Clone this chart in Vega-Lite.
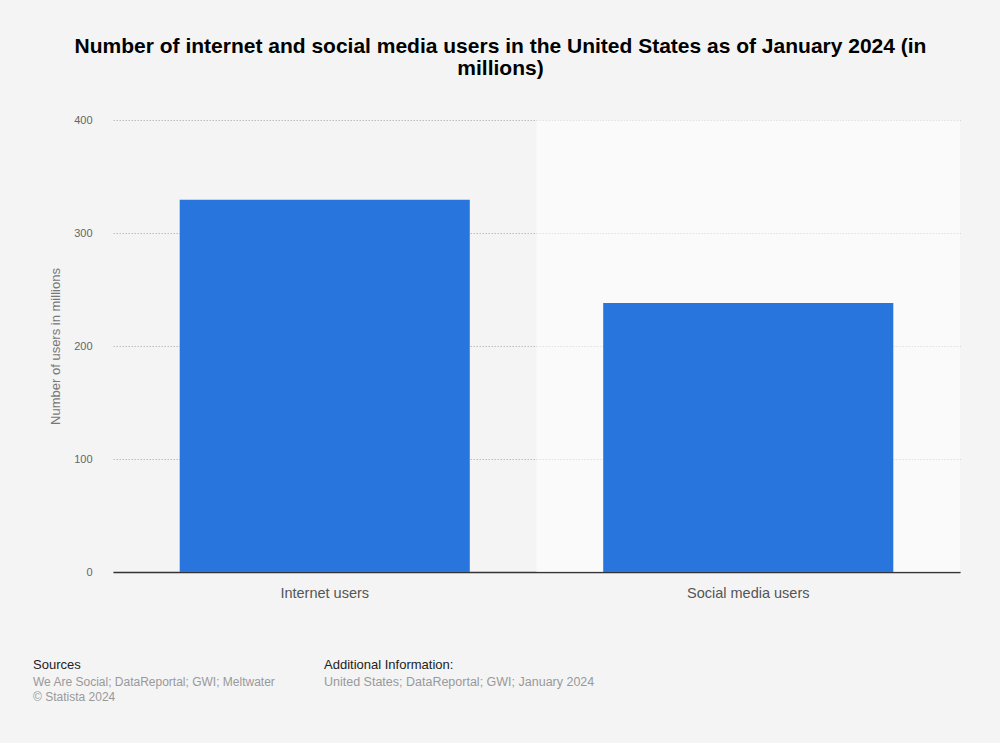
{
  "$schema": "https://vega.github.io/schema/vega-lite/v6.json",
  "width": 847,
  "height": 452,
  "autosize": {"type": "none"},
  "padding": {"left": 113, "top": 120, "right": 40, "bottom": 171},
  "background": "#f4f4f4",
  "config": {"view": {"stroke": null}, "font": "Liberation Sans"},
  "title": {
    "text": ["Number of internet and social media users in the United States as of January 2024 (in", "millions)"],
    "fontSize": 21,
    "fontWeight": "bold",
    "color": "#000000",
    "lineHeight": 22,
    "offset": 35,
    "dx": -36,
    "anchor": "middle"
  },
  "data": {
    "values": [
      {"category": "Internet users", "users": 329.5},
      {"category": "Social media users", "users": 238}
    ]
  },
  "layer": [
    {
      "transform": [{"filter": "datum.category === 'Social media users'"}],
      "mark": {"type": "bar", "color": "#ffffff", "opacity": 0.55, "width": {"band": 1}},
      "encoding": {
        "x": {"field": "category", "type": "nominal"},
        "y": {"datum": 400, "type": "quantitative"},
        "y2": {"datum": 0}
      }
    },
    {
      "mark": {"type": "bar", "color": "#2876dd", "width": {"band": 0.685}},
      "encoding": {
        "x": {
          "field": "category",
          "type": "nominal",
          "sort": null,
          "scale": {"paddingInner": 0, "paddingOuter": 0},
          "axis": {
            "title": null,
            "labelAngle": 0,
            "labelAlign": "center",
            "labelBaseline": "top",
            "ticks": false,
            "domain": true,
            "domainColor": "#333333",
            "domainWidth": 1.5,
            "labelFontSize": 14.5,
            "labelColor": "#555555",
            "labelPadding": 14
          }
        },
        "y": {
          "field": "users",
          "type": "quantitative",
          "scale": {"domain": [0, 400]},
          "axis": {
            "title": "Number of users in millions",
            "values": [0, 100, 200, 300, 400],
            "grid": true,
            "gridDash": [1.5, 1.5],
            "gridColor": "#bdbdbd",
            "gridWidth": 1,
            "domain": false,
            "ticks": false,
            "labelPadding": 21,
            "labelFontSize": 11,
            "labelColor": "#666666",
            "titleFontSize": 13,
            "titleFontWeight": "normal",
            "titleColor": "#777777",
            "titlePadding": 11
          }
        }
      }
    },
    {
      "data": {"values": [{}]},
      "mark": {"type": "text", "align": "left", "baseline": "middle", "fontSize": 13, "color": "#222222"},
      "encoding": {"x": {"value": -80}, "y": {"value": 545}, "text": {"value": "Sources"}}
    },
    {
      "data": {"values": [{}]},
      "mark": {"type": "text", "align": "left", "baseline": "middle", "fontSize": 12, "color": "#999999"},
      "encoding": {"x": {"value": -80}, "y": {"value": 562}, "text": {"value": "We Are Social; DataReportal; GWI; Meltwater"}}
    },
    {
      "data": {"values": [{}]},
      "mark": {"type": "text", "align": "left", "baseline": "middle", "fontSize": 12, "color": "#999999"},
      "encoding": {"x": {"value": -80}, "y": {"value": 577}, "text": {"value": "© Statista 2024"}}
    },
    {
      "data": {"values": [{}]},
      "mark": {"type": "text", "align": "left", "baseline": "middle", "fontSize": 13, "color": "#222222"},
      "encoding": {"x": {"value": 211}, "y": {"value": 545}, "text": {"value": "Additional Information:"}}
    },
    {
      "data": {"values": [{}]},
      "mark": {"type": "text", "align": "left", "baseline": "middle", "fontSize": 12.5, "color": "#999999"},
      "encoding": {"x": {"value": 211}, "y": {"value": 562}, "text": {"value": "United States; DataReportal; GWI; January 2024"}}
    }
  ]
}
